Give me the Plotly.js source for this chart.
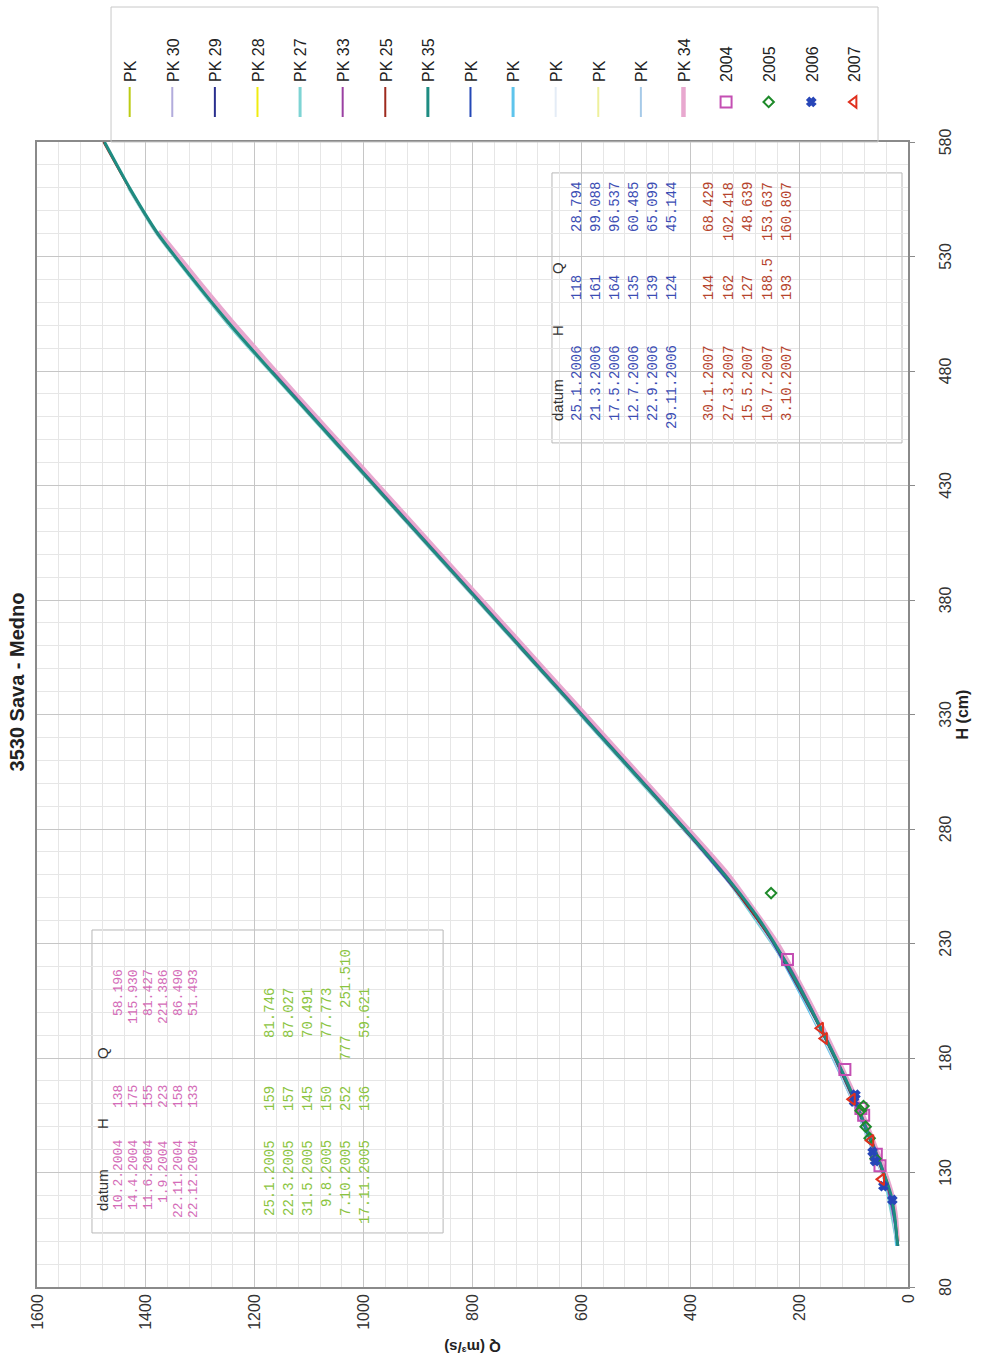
<!DOCTYPE html>
<html><head><meta charset="utf-8">
<script src="https://cdn.plot.ly/plotly-3.0.1.min.js"></script>
<style>
html,body{margin:0;padding:0;width:987px;height:1364px;overflow:hidden;background:#fff}
#chart{position:absolute;left:0;top:0;width:1364px;height:987px;transform-origin:0 0;transform:translateY(1364px) rotate(-90deg);}
</style></head><body><div id="chart"></div>
<script>
// ---------- data ----------
const curveNames = ['PK','PK 30','PK 29','PK 28','PK 27','PK 33','PK 25','PK 35','PK','PK','PK','PK','PK','PK 34'];
const curveH = [
  [98,105,115,125,140,160,180,200,230],
  [100,120,140,160,180,200,240,280,320,360,400,420],
  [98,110,125,140,160,180,200,230,260,300,330,360],
  [98,105,115,125,140,160,180],
  [100,130,160,190,220,260,300,350,400,450,500,540,560],
  [105,130,160,190,220,260,300,350,400,440,480],
  [120,140,160,180,200,230,260,300,350,400,450,500,540,560,580],
  [98,100,110,120,130,140,150,160,170,180,190,200,210,220,230,240,250,260,270,280,300,320,340,360,380,400,420,440,460,480,500,520,540,560,580],
  [98,110,125,140,160,180,200,240,280,330],
  [98,110,125,140,160,180,200,230,250],
  [100,120,140,160,180,200],
  [98,110,125,140,160,170],
  [100,120,140,160,190,220,250,280],
  [100,110,120,130,140,150,160,175,190,210,230,260,290,320,350,380,410,440,470,500,520,541]
];
const curveQ = [
  [19,22,27,38,62,97,135,177,246],
  [21,32,63,97,135,177,274,412,564,716,868,944],
  [18,24,37,62,96,134,176,246,338,487,600,715],
  [18,21,27,37,61,95,132],
  [21,46,97,156,222,339,489,678,868,1058,1247,1380,1432],
  [22,44,94,153,218,335,484,674,864,1016,1168],
  [32,62,96,134,176,246,338,487,677,867,1057,1245,1379,1431,1478],
  [18.5,20,24,31,45,61,78,95,113,133,154,175,197,220,245,272,303,337,373,410,486,562,638,714,790,866,942,1018,1094,1170,1244,1313,1378,1430,1476],
  [19,25,38,63,97,135,177,273,411,601],
  [21,26,40,65,99,138,180,248,306],
  [21,33,64,98,136,179],
  [18,24,37,61,95,112],
  [22,34,66,100,158,223,306,414],
  [19,22,29,42,58,74,91,120,150,193,240,330,442,555,669,783,897,1011,1125,1236,1306,1377]
];
const years = ['2004','2005','2006','2007'];
const date2004 = ['10.2.2004','14.4.2004','11.6.2004','1.9.2004','22.11.2004','22.12.2004'];
const h2004 = [138,175,155,223,158,133];
const q2004 = [58.196,115.930,81.427,221.386,86.490,51.493];
const date2005 = ['25.1.2005','22.3.2005','31.5.2005','9.8.2005','7.10.2005','17.11.2005'];
const h2005 = [159,157,145,150,252,136];
const hText2005 = ['159','157','145','150','252\u00A0\u00A0\u00A0777','136'];
const q2005 = [81.746,87.027,70.491,77.773,251.510,59.621];
const date2006 = ['25.1.2006','21.3.2006','17.5.2006','12.7.2006','22.9.2006','29.11.2006'];
const h2006 = [118,161,164,135,139,124];
const q2006 = [28.794,99.088,96.537,60.485,65.099,45.144];
const date2007 = ['30.1.2007','27.3.2007','15.5.2007','10.7.2007','3.10.2007'];
const h2007 = [144,162,127,188.5,193];
const q2007 = [68.429,102.418,48.639,153.637,160.807];
const headers = ['datum','H','Q'];
const chartTitle = '3530 Sava - Medno';
const xTitle = 'H (cm)';
const yTitle = 'Q (m\u00B3/s)';

// ---------- styles ----------
const curveColors = ['#bccc14','#b2acdc','#2a2f8e','#f0ec10','#7ed4d4','#9a40a2','#9e2a1e','#1e8c82','#2448b6','#5ec4ec','#e4ecf6','#eef09c','#a6cae8','#e8a8cf'];
const curveWidths = [2,2,2,2,3,2,2,3,2,3,2,2,2,4.5];
const drawOrder = [13,4,9,12,11,10,1,3,0,5,2,8,6,7];
const yearColors = ['#c44fb3','#1e8a2a','#2846b8','#e0301e'];
const yearSymbols = ['square-open','diamond-open','x','triangle-up-open'];
const yearSizes = [11,8,7,10];
const textColors = ['#d46cb8','#8ac440','#3b4db4','#b5432c'];
const sans = 'Liberation Sans, Arial, sans-serif';
const mono = 'Liberation Mono, Courier New, monospace';

const traces = [];
drawOrder.forEach(i => {
  traces.push({type:'scatter', mode:'lines', name:curveNames[i], x:curveH[i], y:curveQ[i],
    line:{color:curveColors[i], width:curveWidths[i], shape:'spline', smoothing:0.5},
    legendgroup:'g'+i, legendrank:i+1, hoverinfo:'skip'});
});
const yh = [h2004,h2005,h2006,h2007], yq = [q2004,q2005,q2006,q2007];
years.forEach((y,k) => {
  traces.push({type:'scatter', mode:'markers', name:y, x:yh[k], y:yq[k],
    marker:{symbol:yearSymbols[k], size:yearSizes[k], color:yearColors[k], line:{color:yearColors[k], width:2}},
    legendgroup:'y'+k, legendrank:20+k});
});

// ---------- table annotations ----------
const ann = [];
function cell(x, y, text, color, anchor, family, size, xshift) {
  ann.push({x:x, y:y, xref:'x', yref:'y', text:text, showarrow:false, xanchor:anchor, yanchor:'middle',
    xshift:xshift||0, font:{family:family, size:size, color:color}});
}
// table 1 (2004, 2005)
cell(112.3,1480,headers[0],'#333','left',sans,15);
cell(151.2,1480,headers[1],'#333','center',sans,15);
cell(182.2,1480,headers[2],'#333','center',sans,15);
date2004.forEach((d,i) => {
  const y = 1451 - 27.6*i;
  cell(145.1,y,d,textColors[0],'right',mono,13);
  cell(169.1,y,String(h2004[i]),textColors[0],'right',mono,13);
  cell(219.7,y,q2004[i].toFixed(3),textColors[0],'right',mono,13);
});
date2005.forEach((d,i) => {
  const y = 1172 - 35*i;
  cell(145.1,y,d,textColors[1],'right',mono,14);
  cell(156.0,y,hText2005[i],textColors[1],'left',mono,14);
  cell(211.4,y,q2005[i].toFixed(3),textColors[1],'right',mono,14, hText2005[i].length>3 ? 39 : 0);
});
// table 2 (2006, 2007)
cell(457.3,643,headers[0],'#333','left',sans,15);
cell(497.9,643,headers[1],'#333','center',sans,15);
cell(525.0,643,headers[2],'#333','center',sans,15);
date2006.forEach((d,i) => {
  const y = 608 - 35*i;
  cell(492.2,y,d,textColors[2],'right',mono,14);
  cell(510.1,y,String(h2006[i]),textColors[2],'left',mono,14);
  cell(563.4,y,q2006[i].toFixed(3),textColors[2],'right',mono,14);
});
date2007.forEach((d,i) => {
  const y = 365 - 35.8*i;
  cell(492.2,y,d,textColors[3],'right',mono,14);
  cell(510.1,y,String(h2007[i]),textColors[3],'left',mono,14);
  cell(563.4,y,q2007[i].toFixed(3),textColors[3],'right',mono,14);
});

const shapes = [
  {type:'rect', xref:'x', yref:'y', x0:103.6, x1:235.9, y0:854, y1:1499, fillcolor:'#fff', line:{color:'#b8b8b8', width:1}, layer:'below'},
  {type:'rect', xref:'x', yref:'y', x0:448.6, x1:566.5, y0:11, y1:654, fillcolor:'#fff', line:{color:'#b8b8b8', width:1}, layer:'below'},
  {type:'rect', xref:'paper', yref:'paper', x0:1.0, x1:1.1179, y0:0.0344, y1:0.915, line:{color:'#c8c8c8', width:1}}
];

const axisCommon = {
  showgrid:true, gridcolor:'#c6c6c6', gridwidth:1,
  showline:true, mirror:true, linecolor:'#8a8a8a', linewidth:2,
  zeroline:false,
  tickfont:{family:sans, size:16, color:'#333'}
};
const layout = {
  width:1364, height:987,
  margin:{l:77, r:142, t:37, b:79},
  paper_bgcolor:'#fff', plot_bgcolor:'#fff',
  title:{text:'<b>'+chartTitle+'</b>', x:0.5, xref:'container', y:0.983, yref:'container', yanchor:'middle',
    font:{family:sans, size:20, color:'#222'}},
  xaxis:Object.assign({}, axisCommon, {range:[80,580], tick0:80, dtick:50,
    ticks:'outside', ticklen:5, tickcolor:'#8a8a8a', ticklabelstandoff:17,
    minor:{dtick:10, showgrid:true, gridcolor:'#e6e6e6', gridwidth:1},
    title:{text:'<b>'+xTitle+'</b>', font:{family:sans, size:16, color:'#222'}, standoff:4}}),
  yaxis:Object.assign({}, axisCommon, {range:[0,1600], tick0:0, dtick:200,
    ticks:'', ticklabelstandoff:2,
    minor:{dtick:40, showgrid:true, gridcolor:'#e6e6e6', gridwidth:1},
    title:{text:'<b>'+yTitle+'</b>', font:{family:sans, size:15, color:'#222'}, standoff:8}}),
  legend:{x:1.0175, xanchor:'left', y:0.913, yanchor:'top', bgcolor:'rgba(0,0,0,0)', borderwidth:0,
    font:{family:sans, size:16, color:'#222'}, tracegroupgap:18.8, itemwidth:30, traceorder:'grouped'},
  showlegend:true,
  annotations:ann,
  shapes:shapes
};
Plotly.newPlot('chart', traces, layout, {displayModeBar:false, staticPlot:true});
</script></body></html>
